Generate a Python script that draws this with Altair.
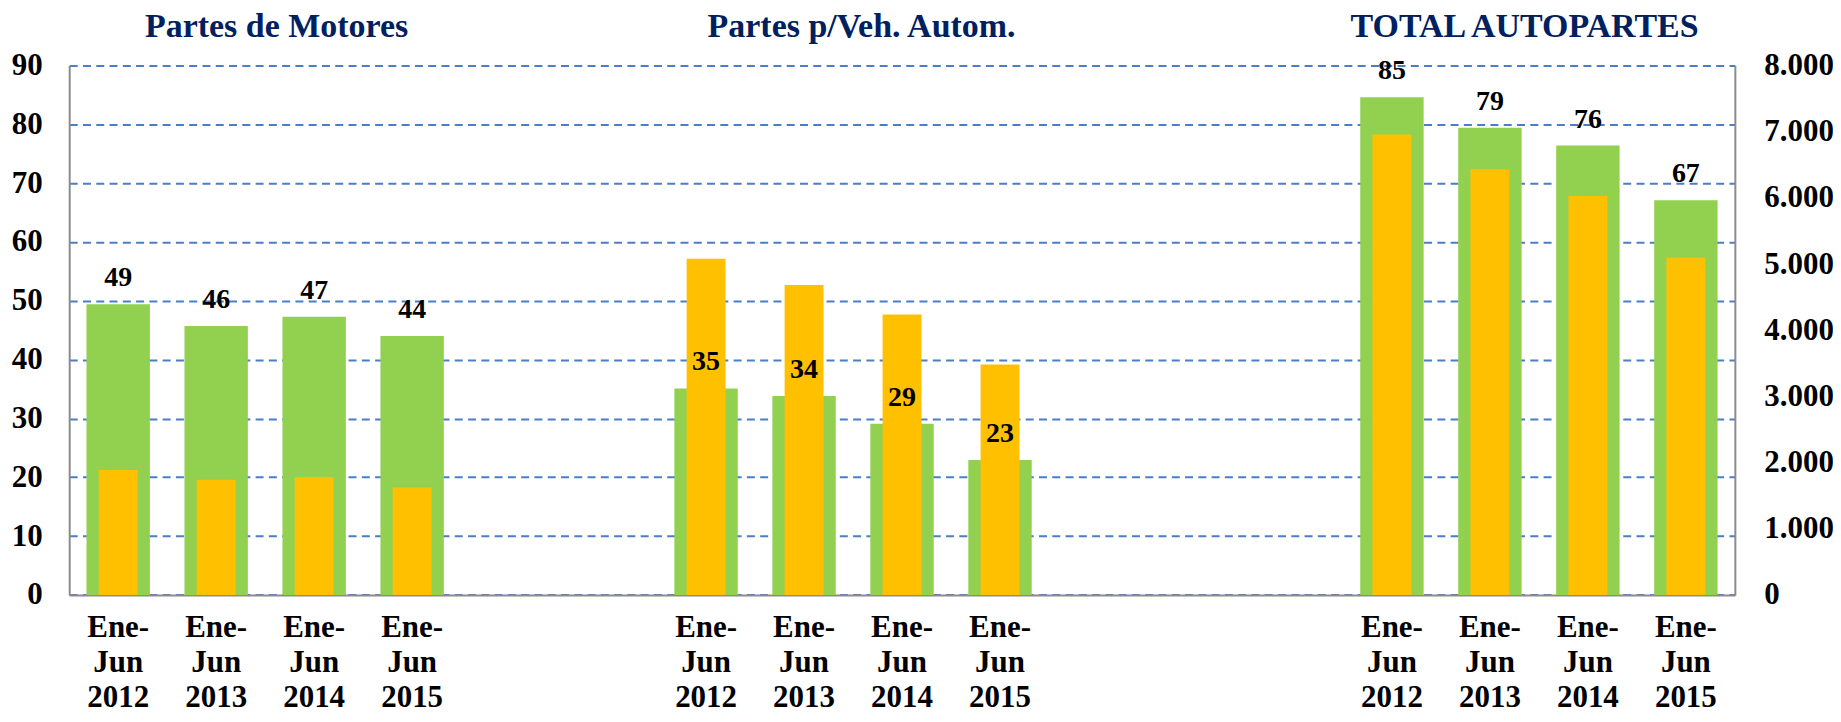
import altair as alt
import pandas as pd

# ---------------- data ----------------
periods = ["2012", "2013", "2014", "2015"]
group_ids = ["M", "V", "T"]
group_titles = ["Partes de Motores", "Partes p/Veh. Autom.", "TOTAL AUTOPARTES"]
gaps_after = [2, 3, 0]

# left axis series (green, labelled)
green_motores = [49.4, 45.7, 47.3, 44.0]
green_vehic = [35.1, 33.8, 29.1, 22.95]
green_total = [84.6, 79.4, 76.4, 67.1]

# right axis series (orange)
orange_motores = [1887, 1741, 1783, 1623]
orange_vehic = [5079, 4683, 4239, 3483]
orange_total = [6959, 6431, 6029, 5093]

left_ticks = [0, 10, 20, 30, 40, 50, 60, 70, 80, 90]
right_ticks = [0, 1000, 2000, 3000, 4000, 5000, 6000, 7000, 8000]

# ---------------- tables ----------------
greens = [green_motores, green_vehic, green_total]
oranges = [orange_motores, orange_vehic, orange_total]

slot_domain = []
rows = []
for gi, g in enumerate(group_ids):
    for pi, p in enumerate(periods):
        key = f"{g}{p}"
        slot_domain.append(key)
        rows.append({"slot": key, "green": greens[gi][pi], "orange": oranges[gi][pi]})
    for k in range(gaps_after[gi]):
        slot_domain.append(f"gap{gi}{k}")
df = pd.DataFrame(rows)

FONT = "Liberation Serif"
W, H = 1668.4, 530.3
GREEN = "#92D050"
ORANGE = "#FFC000"
AXIS_GRAY = "#8C8C8C"
GRID_BLUE = "#4A7EC7"

x_scale = alt.Scale(domain=slot_domain, paddingInner=0, paddingOuter=0)

x_axis = alt.Axis(
    title=None,
    orient="bottom",
    labelExpr="indexof(datum.value, 'gap') == 0 ? '' : ['Ene-', 'Jun', slice(datum.value, 1)]",
    labelAngle=0,
    labelFont=FONT,
    labelFontWeight="bold",
    labelFontSize=31,
    labelColor="black",
    labelBaseline="alphabetic",
    labelLineHeight=35,
    labelPadding=42,
    labelOverlap=False,
    labelFlush=False,
    ticks=False,
    tickSize=0,
    grid=False,
    domain=True,
    domainColor=AXIS_GRAY,
    domainWidth=2,
)

# one identical x definition for every layer so the shared axis survives
x_enc = alt.X("slot:N", scale=x_scale, axis=x_axis, sort=slot_domain)

base = alt.Chart(df)

green_bars = base.mark_bar(color=GREEN, width={"band": 0.647}).encode(
    x=x_enc,
    y=alt.Y(
        "green:Q",
        scale=alt.Scale(domain=[0, 90], nice=False, zero=True),
        axis=alt.Axis(
            title=None,
            orient="left",
            values=left_ticks,
            grid=True,
            gridColor=GRID_BLUE,
            gridDash=[8, 5.3],
            gridWidth=2,
            ticks=False,
            tickSize=0,
            domain=True,
            domainColor=AXIS_GRAY,
            domainWidth=2,
            labelFont=FONT,
            labelFontWeight="bold",
            labelFontSize=31,
            labelColor="black",
            labelPadding=27,
            labelBaseline="middle",
            labelFlush=False,
        ),
    ),
)

orange_bars = base.mark_bar(color=ORANGE, width={"band": 0.397}).encode(
    x=x_enc,
    y=alt.Y(
        "orange:Q",
        scale=alt.Scale(domain=[0, 8000], nice=False, zero=True),
        axis=alt.Axis(
            title=None,
            orient="right",
            values=right_ticks,
            labelExpr="replace(format(datum.value, ','), ',', '.')",
            grid=False,
            ticks=False,
            tickSize=0,
            domain=True,
            domainColor=AXIS_GRAY,
            domainWidth=2,
            labelFont=FONT,
            labelFontWeight="bold",
            labelFontSize=31,
            labelColor="black",
            labelPadding=29,
            labelBaseline="middle",
            labelFlush=False,
        ),
    ),
)

value_labels = base.mark_text(
    font=FONT, fontWeight="bold", fontSize=28, color="black",
    baseline="alphabetic", align="center", dy=-18,
).encode(
    x=x_enc,
    y=alt.Y("green:Q", scale=alt.Scale(domain=[0, 90], nice=False), axis=None),
    text=alt.Text("green:Q", format=".0f"),
)

title_dx = [60.5, 57.6, 34.7]
title_layers = []
for gi, g in enumerate(group_ids):
    tdf = pd.DataFrame([{"slot": f"{g}{periods[1]}", "title": group_titles[gi], "top": 90}])
    title_layers.append(
        alt.Chart(tdf).mark_text(
            font=FONT, fontWeight="bold", fontSize=34, color="#002060",
            baseline="alphabetic", align="center", dx=title_dx[gi], dy=-29,
        ).encode(
            x=x_enc,
            y=alt.Y("top:Q", scale=alt.Scale(domain=[0, 90], nice=False), axis=None),
            text="title:N",
        )
    )

chart = (
    alt.layer(green_bars, orange_bars, value_labels, *title_layers)
    .resolve_scale(y="independent")
    .properties(
        width=W,
        height=H,
        autosize=alt.AutoSizeParams(type="none"),
        padding={"left": 61.3, "top": 57, "right": 98.3, "bottom": 118.7},
        background="white",
    )
    .configure_view(stroke=None)
)

chart.save("out.html", embed_options={"renderer": "svg", "actions": False})
